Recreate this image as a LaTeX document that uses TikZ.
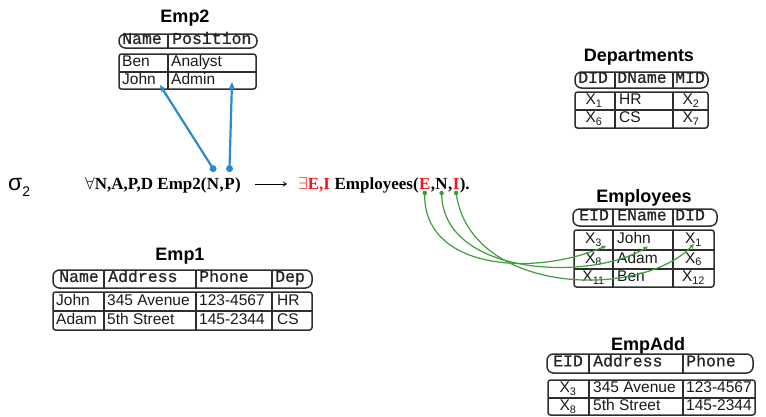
\documentclass[tikz,border=0pt]{standalone}
\usepackage{fontspec}
\setmainfont{Liberation Serif}
\newfontfamily\sansf{Liberation Sans}
\newfontfamily\monof[FakeBold=0.9]{Liberation Mono}
\usetikzlibrary{arrows.meta}

\definecolor{tabline}{HTML}{2E2E2E}
\definecolor{linkblue}{HTML}{2B8BD1}
\definecolor{linkgreen}{HTML}{3E9E3E}
\definecolor{varred}{HTML}{F01818}

\newcommand\ttlfont{\sansf\bfseries\fontsize{18}{18}\selectfont}
\newcommand\hdrfont{\monof\fontsize{16.5}{16.5}\selectfont}
\newcommand\datfont{\sansf\fontsize{15.5}{15.5}\selectfont}
\newcommand\fmlfont{\bfseries\fontsize{17}{17}\selectfont}
\newcommand\Xs[1]{X\textsubscript{#1}}

\tikzset{
  ttl/.style={font=\ttlfont, anchor=base, inner sep=0pt},
  hdrbox/.style={draw=tabline, line width=1.5pt, rounded corners=6.5pt},
  datbox/.style={draw=tabline, line width=1.5pt, rounded corners=2.5pt},
  rule/.style={draw=tabline, line width=1.2pt},
  hc/.style={font=\hdrfont, text=black!85, anchor=west, inner sep=0pt, text height=0.58em, text depth=0pt},
  dl/.style={font=\datfont, text=black!90, anchor=west, inner sep=0pt, text height=0.72em, text depth=0pt},
  dc/.style={font=\datfont, text=black!90, anchor=center, inner sep=0pt, text height=0.72em, text depth=0pt},
  fml/.style={font=\fmlfont, anchor=base west, inner sep=0pt},
  bdot/.style={circle, fill=linkblue, inner sep=0pt, minimum size=7pt},
  gdot/.style={circle, fill=linkgreen, inner sep=0pt, minimum size=4.5pt},
  blink/.style={draw=linkblue, line width=2.2pt, -{Stealth[length=7pt,width=6pt]}},
  glink/.style={draw=linkgreen, line width=1.2pt, -{Stealth[length=5pt,width=4.5pt]}},
}

\begin{document}
\begin{tikzpicture}[x=1pt, y=-1pt]
\useasboundingbox (0,0) rectangle (766,416);

% ---------- Emp2 ----------
\node[ttl] (emp2-title) at (185,22) {Emp2};
\draw[hdrbox] (119,34) rectangle (257,48);
\draw[rule] (168,34) -- (168,48);
\node[hc] (emp2-h1) at (122,41) {Name};
\node[hc] (emp2-h2) at (172,41) {Position};
\draw[datbox] (119,54) rectangle (256,89);
\draw[rule] (119,72) -- (256,72);
\draw[rule] (168,54) -- (168,89);
\node[dl] (emp2-a1) at (122,63) {Ben};
\node[dl] (emp2-b1) at (171,63) {Analyst};
\node[dl] (emp2-a2) at (122,80.5) {John};
\node[dl] (emp2-b2) at (171,80.5) {Admin};
\coordinate (tJohn) at (160,85);
\coordinate (tAdmin) at (232,82);

% ---------- Departments ----------
\node[ttl] (dep-title) at (639,61) {Departments};
\draw[hdrbox] (575,72) rectangle (708,88);
\draw[rule] (615,72) -- (615,88) (673,72) -- (673,88);
\node[hc] (dep-h1) at (578,80) {DID};
\node[hc] (dep-h2) at (617,80) {DName};
\node[hc] (dep-h3) at (675,80) {MID};
\draw[datbox] (575,92) rectangle (708,128);
\draw[rule] (575,110) -- (708,110);
\draw[rule] (615,92) -- (615,128) (673,92) -- (673,128);
\node[dc] (dep-a1) at (594,101) {\Xs{1}};
\node[dl] (dep-b1) at (619,101) {HR};
\node[dc] (dep-c1) at (691,101) {\Xs{2}};
\node[dc] (dep-a2) at (594,119) {\Xs{6}};
\node[dl] (dep-b2) at (619,119) {CS};
\node[dc] (dep-c2) at (691,119) {\Xs{7}};

% ---------- Employees ----------
\node[ttl] (emp-title) at (644,202) {Employees};
\draw[hdrbox] (573,209) rectangle (717,226);
\draw[rule] (613,209) -- (613,226) (673,209) -- (673,226);
\node[hc] (emp-h1) at (579,217.5) {EID};
\node[hc] (emp-h2) at (617,217.5) {EName};
\node[hc] (emp-h3) at (675,217.5) {DID};
\draw[datbox] (574,230) rectangle (714,287);
\draw[rule] (574,250) -- (714,250) (574,269) -- (714,269);
\draw[rule] (613,230) -- (613,287) (673,230) -- (673,287);
\node[dc] (emp-a1) at (593.5,240) {\Xs{3}};
\node[dl] (emp-b1) at (617,240) {John};
\node[dc] (emp-c1) at (693.5,240) {\Xs{1}};
\node[dc] (emp-a2) at (593.5,259.5) {\Xs{8}};
\node[dl] (emp-b2) at (617,259.5) {Adam};
\node[dc] (emp-c2) at (693.5,259.5) {\Xs{6}};
\node[dc] (emp-a3) at (593.5,278) {\Xs{11}};
\node[dl] (emp-b3) at (617,278) {Ben};
\node[dc] (emp-c3) at (693.5,278) {\Xs{12}};
\coordinate (tX3) at (606,246);
\coordinate (tJohnE) at (648,246.5);
\coordinate (tX1) at (694,244);

% ---------- Emp1 ----------
\node[ttl] (emp1-title) at (180,260) {Emp1};
\draw[hdrbox] (53,270) rectangle (312,288);
\draw[rule] (104,270) -- (104,288) (196,270) -- (196,288) (272,270) -- (272,288);
\node[hc] (emp1-h1) at (59,279) {Name};
\node[hc] (emp1-h2) at (108,279) {Address};
\node[hc] (emp1-h3) at (199,279) {Phone};
\node[hc] (emp1-h4) at (275,279) {Dep};
\draw[datbox] (53,292) rectangle (312,330);
\draw[rule] (53,311) -- (312,311);
\draw[rule] (104,292) -- (104,330) (196,292) -- (196,330) (272,292) -- (272,330);
\node[dl] (emp1-a1) at (56,301.5) {John};
\node[dl] (emp1-b1) at (107,301.5) {345 Avenue};
\node[dl] (emp1-c1) at (199,301.5) {123-4567};
\node[dl] (emp1-d1) at (277,301.5) {HR};
\node[dl] (emp1-a2) at (56,320.5) {Adam};
\node[dl] (emp1-b2) at (107,320.5) {5th Street};
\node[dl] (emp1-c2) at (199,320.5) {145-2344};
\node[dl] (emp1-d2) at (277,320.5) {CS};

% ---------- EmpAdd ----------
\node[ttl] (ea-title) at (648,350) {EmpAdd};
\draw[hdrbox] (547,354) rectangle (753,373);
\draw[rule] (589,354) -- (589,373) (683,354) -- (683,373);
\node[hc] (ea-h1) at (553,363.5) {EID};
\node[hc] (ea-h2) at (593,363.5) {Address};
\node[hc] (ea-h3) at (686,363.5) {Phone};
\draw[datbox] (548,380) rectangle (755,415);
\draw[rule] (548,398) -- (755,398);
\draw[rule] (589,380) -- (589,415) (683,380) -- (683,415);
\node[dc] (ea-a1) at (568,389) {\Xs{3}};
\node[dl] (ea-b1) at (593,389) {345 Avenue};
\node[dl] (ea-c1) at (686,389) {123-4567};
\node[dc] (ea-a2) at (568,407) {\Xs{8}};
\node[dl] (ea-b2) at (593,407) {5th Street};
\node[dl] (ea-c2) at (686,407) {145-2344};

% ---------- dependency sigma_2 ----------
\node[anchor=base west, inner sep=0pt, font=\sansf\fontsize{23}{23}\selectfont] (sigma) at (8,190)
  {σ\raisebox{-6pt}{\fontsize{14}{14}\selectfont 2}};

\node[fml] (f1) at (85,189) {$\forall$N,A,P,D Emp2(};
\node[fml] (fN) at (f1.base east) {N};
\node[fml] (fc) at (fN.base east) {,};
\node[fml] (fP) at (fc.base east) {P};
\node[fml] (fr) at (fP.base east) {)};

\node[fml, text=varred] (ex) at (298,189) {$\exists$E,I};
\node[fml] (emp) at (ex.base east) {\ Employees(};
\node[fml, text=varred] (eE) at (emp.base east) {E};
\node[fml] (ec1) at (eE.base east) {,};
\node[fml] (eN) at (ec1.base east) {N};
\node[fml] (ec2) at (eN.base east) {,};
\node[fml, text=varred] (eI) at (ec2.base east) {I};
\node[fml] (eend) at (eI.base east) {).};

\draw[line width=0.8pt, -{To[length=4pt,width=5pt]}]
  ([xshift=14pt,yshift=5pt]fr.base east) -- ([xshift=-11pt,yshift=5pt]ex.base west);

% blue links into Emp2
\node[bdot] (dN) at ([yshift=9pt]fN.north) {};
\node[bdot] (dP) at ([yshift=9pt]fP.north) {};
\draw[blink] (dN.center) -- (tJohn);
\draw[blink] (dP.center) -- (tAdmin);

% green links into Employees
\node[gdot] (dE) at ([yshift=-4pt]eE.base) {};
\node[gdot] (dEN) at ([yshift=-4pt]eN.base) {};
\node[gdot] (dI) at ([yshift=-4pt]eI.base) {};
\draw[glink] (dE.center) .. controls (422,268) and (530,278) .. (tX3);
\draw[glink] (dEN.center) .. controls (442,276) and (590,282) .. (tJohnE);
\draw[glink] (dI.center) .. controls (470,295) and (640,300) .. (tX1);
\end{tikzpicture}
\end{document}
